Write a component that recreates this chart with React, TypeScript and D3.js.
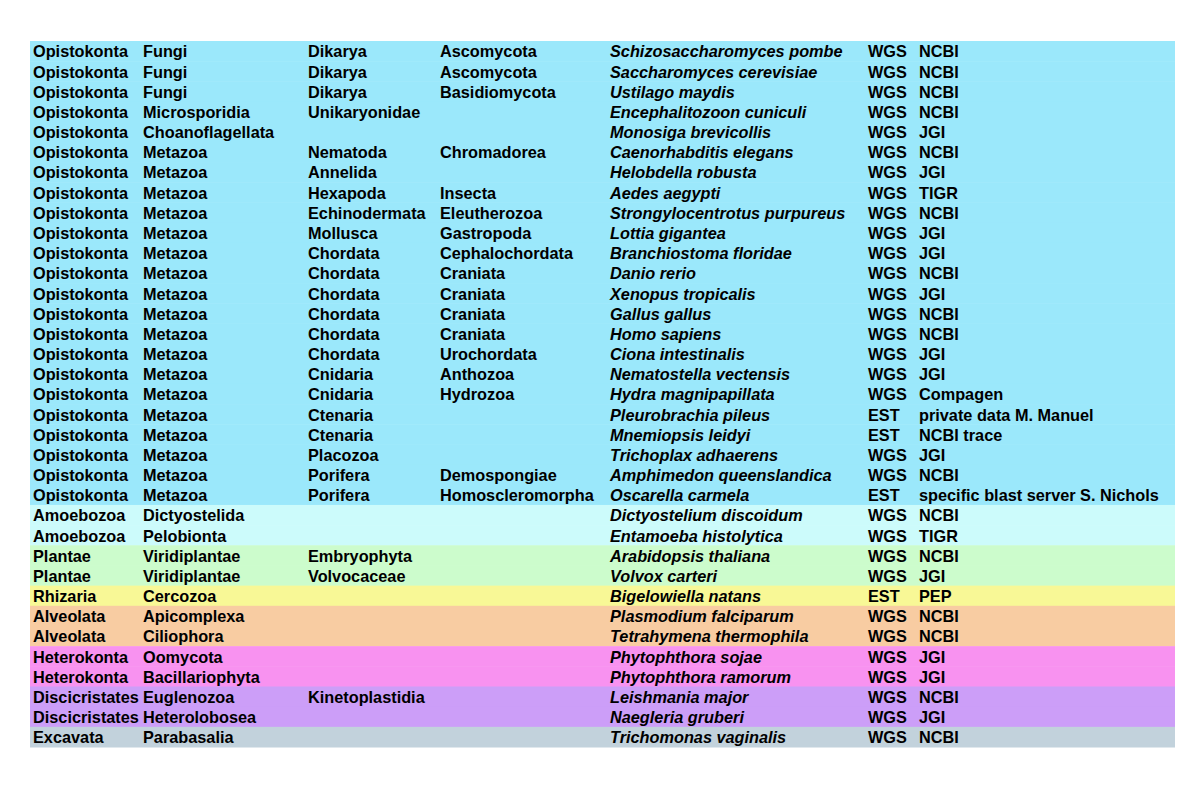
import React from 'react';
import * as d3 from 'd3';

// table columns, one entry per row
const supergroups = [
  'Opistokonta', 'Opistokonta', 'Opistokonta', 'Opistokonta', 'Opistokonta',
  'Opistokonta', 'Opistokonta', 'Opistokonta', 'Opistokonta', 'Opistokonta',
  'Opistokonta', 'Opistokonta', 'Opistokonta', 'Opistokonta', 'Opistokonta',
  'Opistokonta', 'Opistokonta', 'Opistokonta', 'Opistokonta', 'Opistokonta',
  'Opistokonta', 'Opistokonta', 'Opistokonta',
  'Amoebozoa', 'Amoebozoa', 'Plantae', 'Plantae', 'Rhizaria', 'Alveolata', 'Alveolata',
  'Heterokonta', 'Heterokonta', 'Discicristates', 'Discicristates', 'Excavata',
];
const groups = [
  'Fungi', 'Fungi', 'Fungi', 'Microsporidia', 'Choanoflagellata',
  'Metazoa', 'Metazoa', 'Metazoa', 'Metazoa', 'Metazoa', 'Metazoa', 'Metazoa',
  'Metazoa', 'Metazoa', 'Metazoa', 'Metazoa', 'Metazoa', 'Metazoa', 'Metazoa',
  'Metazoa', 'Metazoa', 'Metazoa', 'Metazoa',
  'Dictyostelida', 'Pelobionta', 'Viridiplantae', 'Viridiplantae', 'Cercozoa',
  'Apicomplexa', 'Ciliophora', 'Oomycota', 'Bacillariophyta', 'Euglenozoa',
  'Heterolobosea', 'Parabasalia',
];
const subgroups = [
  'Dikarya', 'Dikarya', 'Dikarya', 'Unikaryonidae', '',
  'Nematoda', 'Annelida', 'Hexapoda', 'Echinodermata', 'Mollusca', 'Chordata',
  'Chordata', 'Chordata', 'Chordata', 'Chordata', 'Chordata', 'Cnidaria',
  'Cnidaria', 'Ctenaria', 'Ctenaria', 'Placozoa', 'Porifera', 'Porifera',
  '', '', 'Embryophyta', 'Volvocaceae', '', '', '', '', '', 'Kinetoplastidia', '', '',
];
const classes = [
  'Ascomycota', 'Ascomycota', 'Basidiomycota', '', '',
  'Chromadorea', '', 'Insecta', 'Eleutherozoa', 'Gastropoda', 'Cephalochordata',
  'Craniata', 'Craniata', 'Craniata', 'Craniata', 'Urochordata', 'Anthozoa',
  'Hydrozoa', '', '', '', 'Demospongiae', 'Homoscleromorpha',
  '', '', '', '', '', '', '', '', '', '', '', '',
];
const species = [
  'Schizosaccharomyces pombe', 'Saccharomyces cerevisiae', 'Ustilago maydis',
  'Encephalitozoon cuniculi', 'Monosiga brevicollis', 'Caenorhabditis elegans',
  'Helobdella robusta', 'Aedes aegypti', 'Strongylocentrotus purpureus',
  'Lottia gigantea', 'Branchiostoma floridae', 'Danio rerio', 'Xenopus tropicalis',
  'Gallus gallus', 'Homo sapiens', 'Ciona intestinalis', 'Nematostella vectensis',
  'Hydra magnipapillata', 'Pleurobrachia pileus', 'Mnemiopsis leidyi',
  'Trichoplax adhaerens', 'Amphimedon queenslandica', 'Oscarella carmela',
  'Dictyostelium discoidum', 'Entamoeba histolytica', 'Arabidopsis thaliana',
  'Volvox carteri', 'Bigelowiella natans', 'Plasmodium falciparum',
  'Tetrahymena thermophila', 'Phytophthora sojae', 'Phytophthora ramorum',
  'Leishmania major', 'Naegleria gruberi', 'Trichomonas vaginalis',
];
const dataTypes = [
  'WGS', 'WGS', 'WGS', 'WGS', 'WGS', 'WGS', 'WGS', 'WGS', 'WGS', 'WGS', 'WGS',
  'WGS', 'WGS', 'WGS', 'WGS', 'WGS', 'WGS', 'WGS', 'EST', 'EST', 'WGS', 'WGS',
  'EST', 'WGS', 'WGS', 'WGS', 'WGS', 'EST', 'WGS', 'WGS', 'WGS', 'WGS', 'WGS',
  'WGS', 'WGS',
];
const sources = [
  'NCBI', 'NCBI', 'NCBI', 'NCBI', 'JGI', 'NCBI', 'JGI', 'TIGR', 'NCBI', 'JGI',
  'JGI', 'NCBI', 'JGI', 'NCBI', 'NCBI', 'JGI', 'JGI', 'Compagen',
  'private data M. Manuel', 'NCBI trace', 'JGI', 'NCBI',
  'specific blast server S. Nichols', 'NCBI', 'TIGR', 'NCBI', 'JGI', 'PEP',
  'NCBI', 'NCBI', 'JGI', 'JGI', 'NCBI', 'JGI', 'NCBI',
];

const groupNames = ['Opistokonta', 'Amoebozoa', 'Plantae', 'Rhizaria', 'Alveolata', 'Heterokonta', 'Discicristates', 'Excavata'];
const groupColors = ['#9be8fb', '#ccfbfb', '#ccfccc', '#f8f896', '#f8cca2', '#f892f0', '#cc9ef8', '#c2d2dc'];

const width = 1200;
const height = 785;
const left = 30;
const right = 1175;
const top = 41;
const bottom = 747;

// x position of each text column
const colX = [33, 143, 308, 440, 610, 868, 919];

export default function App() {
  const rows = d3.range(species.length);
  const y = d3.scaleBand<number>().domain(rows).range([top, bottom]);
  const color = d3.scaleOrdinal<string, string>().domain(groupNames).range(groupColors);

  const cols = [supergroups, groups, subgroups, classes, species, dataTypes, sources];

  return (
    <svg width={width} height={height} style={{ position: 'absolute', left: 0, top: 0, background: '#fff' }}>
      {rows.map(i => (
        <rect key={'r' + i} x={left} y={y(i)} width={right - left} height={y.bandwidth() + 0.5}
          fill={color(supergroups[i])} />
      ))}
      {rows.map(i => (
        <g key={'t' + i} fontFamily="'Liberation Sans', Arial, sans-serif" fontSize={16.3} fontWeight="bold" fill="#000">
          {cols.map((col, c) => col[i] ? (
            <text key={c} x={colX[c]} y={(y(i) as number) + y.bandwidth() / 2 + 0.5} dy="0.36em"
              fontStyle={c === 4 ? 'italic' : 'normal'}>{col[i]}</text>
          ) : null)}
        </g>
      ))}
    </svg>
  );
}
